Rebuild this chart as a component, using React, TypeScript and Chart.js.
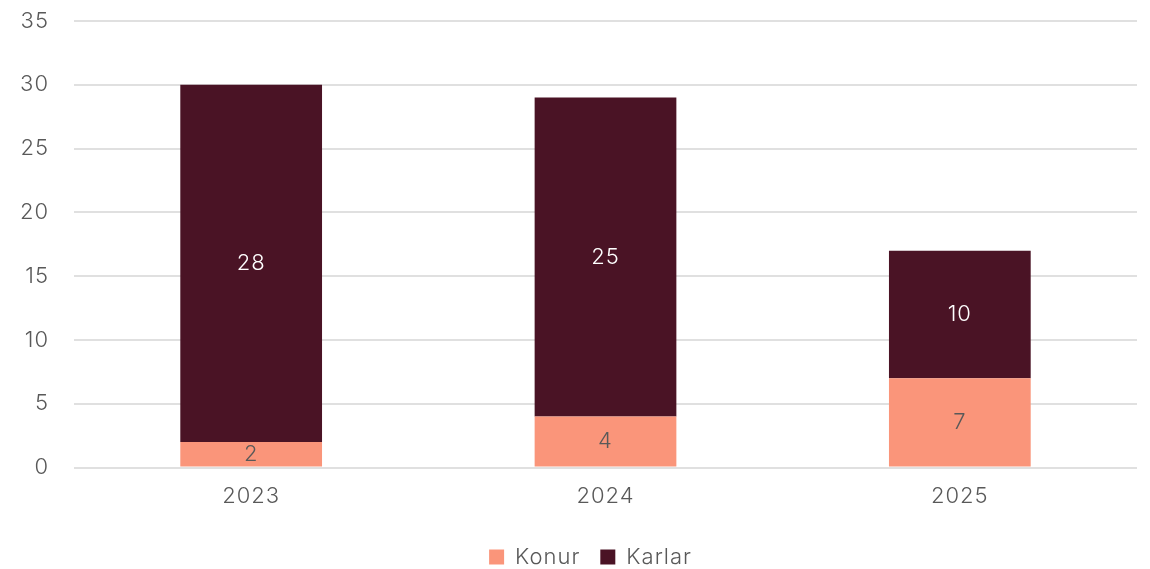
import React, { useEffect, useRef } from "react";
import { Chart, registerables } from "chart.js";

Chart.register(...registerables);

const categories = ["2023", "2024", "2025"];
const konurValues = [2, 4, 7];
const karlarValues = [28, 25, 10];
const seriesNames = ["Konur", "Karlar"];
const yTicks = [0, 5, 10, 15, 20, 25, 30, 35];

const FONT = "Inter, 'Noto Sans', sans-serif";
const TEXT = "#595959";
const FS = 22;

const spacingPlugin = {
  id: "spacing",
  beforeUpdate(chart: any) {
    chart.ctx.letterSpacing = "1px";
  },
  afterLayout(chart: any) {
    if (chart.legend) {
      chart.legend.left += 22;
      chart.legend.right += 22;
    }
  },
  beforeDraw(chart: any) {
    chart.ctx.letterSpacing = "1px";
  },
};

const labelPlugin = {
  id: "barLabels",
  afterDatasetsDraw(chart: any) {
    const ctx = chart.ctx;
    ctx.save();
    ctx.font = `300 ${FS}px ${FONT}`;
    ctx.textAlign = "center";
    ctx.textBaseline = "middle";
    chart.data.datasets.forEach((ds: any, di: number) => {
      const meta = chart.getDatasetMeta(di);
      meta.data.forEach((el: any, i: number) => {
        const p = el.getCenterPoint();
        ctx.fillStyle = di === 0 ? TEXT : "#ffffff";
        ctx.fillText(String(ds.data[i]), p.x, p.y);
      });
    });
    ctx.restore();
  },
};

export default function App() {
  const ref = useRef<HTMLCanvasElement>(null);
  useEffect(() => {
    document.body.style.margin = "0";
    const chart = new Chart(ref.current!, {
      type: "bar",
      data: {
        labels: categories,
        datasets: [
          {
            label: seriesNames[0],
            data: konurValues,
            backgroundColor: "#FA957A",
            categoryPercentage: 1,
            barPercentage: 0.4,
          },
          {
            label: seriesNames[1],
            data: karlarValues,
            backgroundColor: "#4A1325",
            categoryPercentage: 1,
            barPercentage: 0.4,
          },
        ],
      },
      options: {
        animation: false,
        responsive: false,
        layout: { padding: { top: 21, right: 13, left: 0, bottom: -9 } },
        plugins: {
          legend: {
            position: "bottom",
            labels: {
              boxWidth: 15,
              boxHeight: 15,
              padding: 20,
              color: TEXT,
              font: { family: FONT, size: FS, weight: "300" as any },
            },
          },
          tooltip: { enabled: false },
        },
        scales: {
          x: {
            stacked: true,
            grid: { display: false, drawTicks: false },
            border: { display: false },
            ticks: {
              color: TEXT,
              padding: 16,
              font: { family: FONT, size: FS, weight: "300" as any },
            },
          },
          y: {
            stacked: true,
            min: 0,
            max: 35,
            afterFit: (s: any) => {
              s.width = 74;
              s.paddingTop = 0;
            },
            afterBuildTicks: (s: any) => {
              s.ticks = yTicks.map((v) => ({ value: v }));
            },
            grid: { color: "#e0e0e0", lineWidth: 2, drawTicks: false },
            border: { display: false },
            ticks: {
              color: TEXT,
              padding: 25,
              font: { family: FONT, size: FS, weight: "300" as any },
            },
          },
        },
      },
      plugins: [spacingPlugin, labelPlugin],
    });
    return () => chart.destroy();
  }, []);
  return (
    <div style={{ width: 1150, height: 569 }}>
      <canvas ref={ref} width={1150} height={569} />
    </div>
  );
}
